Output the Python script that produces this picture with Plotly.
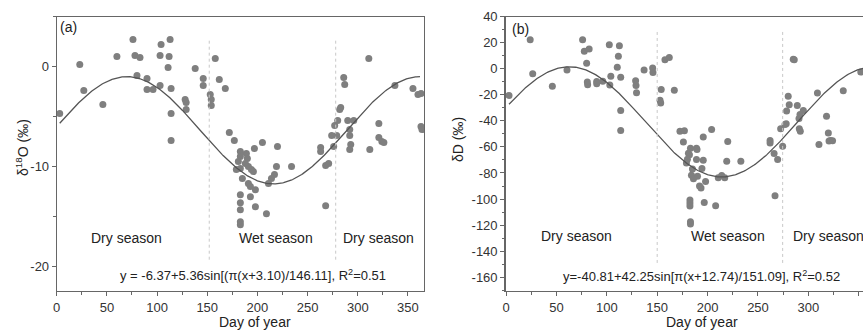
import numpy as np
import plotly.graph_objects as go

# ---------------- data ----------------
day_a = [3, 23, 27, 46, 60, 76, 78, 83, 80, 90, 90, 96, 103, 104, 103, 113, 112, 111, 114, 114, 114,
         128, 129, 129, 138, 146, 146, 153, 154, 154, 158, 162, 168, 172, 177,
         183, 189, 183, 190, 181, 188, 183, 191, 194, 179, 196, 197, 205, 220, 219, 234,
         217, 214, 211, 185, 191, 193, 198, 183, 183, 183, 183, 183, 193, 198, 209,
         263, 263, 268, 271, 268, 274, 279, 276, 277, 280, 282, 283, 286, 287,
         290, 296, 292, 292, 293, 292, 311, 312, 321, 321, 324, 326, 337, 355, 360, 363, 363, 364]
d18o = [-4.7, 0.2, -2.4, -3.8, 1.0, 2.7, 1.1, 0.9, -0.9, -1.2, -2.3, -2.3, 1.1, 2.2, -1.9, 2.7, 1.0, -0.1, -2.2, -4.7, -7.4,
        -3.3, -3.6, -4.3, -0.2, -1.2, -1.9, -2.8, -3.3, -3.9, 0.8, -1.3, -2.2, -6.6, -7.4,
        -8.5, -8.7, -9.0, -9.2, -9.5, -9.7, -10.2, -10.0, -10.3, -10.3, -10.5, -8.2, -7.6, -8.0, -10.0, -10.0,
        -10.8, -11.2, -11.7, -11.2, -11.7, -12.0, -12.3, -12.8, -13.6, -14.3, -15.5, -15.8, -13.0, -14.0, -14.7,
        -8.1, -8.5, -9.9, -9.7, -13.9, -6.9, -6.9, -8.0, -5.9, -5.4, -4.3, -4.1, -1.1, -1.8,
        -5.4, -5.4, -6.3, -6.9, -7.8, -8.3, 0.8, -8.3, -5.7, -7.1, -7.5, -7.6, -1.9, -2.2, -2.8, -2.7, -6.0, -6.3]

day_b = [3, 24, 26.5, 46, 60.5, 76, 77.7, 82.5, 80, 80.7, 81, 90, 90, 96, 102.5, 103, 104, 112.5, 111.5, 110.4,
         113.8, 113.8, 113.8, 128.6, 129, 129.5, 137, 145.5, 145.8, 154, 152.8, 153.5, 157.7, 162, 167,
         172.6, 177, 176, 183, 189, 181, 182, 189.5, 180, 189, 195.7, 179, 185, 194.4, 184, 186, 190, 198,
         192, 193.5, 195.7, 204, 220, 219, 233, 210.6, 214, 217, 182.5, 182.5, 182.5, 196.7, 208, 183, 183,
         262, 262, 266, 269.5, 266.9, 272.5, 274.5, 276.8, 278, 280, 281, 278.4, 285, 286, 289, 295, 291.7,
         290.7, 291, 292, 309, 310.5, 318, 319.8, 320.5, 322, 324, 334.6, 352]
dD = [-20.5, 22.2, -3.9, -13.5, -1.0, 22.1, 13.4, 15.0, 4.2, -10.3, -12.3, -9.8, -11.6, -9.6, 18.3, -12.5, -5.8, 17.5, 9.5, 1.0,
      -6.5, -32, -47.5, -9.2, -13, -18.4, -1.0, 0.6, -3.0, -16, -24.3, -26.4, 6.8, 8.5, -16.6,
      -48, -47.7, -56.2, -61, -61, -64.8, -66, -62, -69.5, -69.7, -70.2, -72.3, -77, -76.6, -81.7, -84.4, -82.5, -86.5,
      -90, -91.6, -52.5, -46.7, -55.9, -71, -71, -83.6, -81.9, -83.6, -100.8, -103, -105.4, -102.6, -105.2, -117.4, -119.2,
      -55, -57, -65, -69.7, -97.5, -46, -59.5, -42.9, -42.3, -21.2, -27.6, -32.5, 7.3, 6.9, -28.3, -32, -35.1,
      -38.3, -46, -48, -18.7, -58.2, -36.5, -49.3, -55.5, -55, -55.3, -17, -2.6]

# fitted equations shown on the chart
fit_a = dict(a=-6.37, b=5.36, c=3.10, d=146.11)
fit_b = dict(a=-40.81, b=42.25, c=12.74, d=151.09)
season_bounds_a = [152, 278]
season_bounds_b = [150, 274.5]

x_ticks = [0, 50, 100, 150, 200, 250, 300, 350]
x_ticktext = ["0", "50", "100", "150", "200", "250", "300", "350"]
ya_ticks = [0, -10, -20]
ya_ticktext = ["0", "-10", "-20"]
yb_ticks = [40, 20, 0, -20, -40, -60, -80, -100, -120, -140, -160]
yb_ticktext = ["40", "20", "0", "-20", "-40", "-60", "-80", "-100", "-120", "-140", "-160"]

def fit(p, x):
    return p["a"] + p["b"] * np.sin(np.pi * (x + p["c"]) / p["d"])

xa = np.linspace(3, 362, 400)
xb = np.linspace(3, 365, 400)

FONT = "Liberation Sans, Arial, sans-serif"
DOT = "#7f7f7f"
LINE = "#555555"
AX = "#666666"
TXT = "#333333"

fig = go.Figure()
fig.add_trace(go.Scatter(x=day_a, y=d18o, mode="markers", marker=dict(size=7, color=DOT),
                         xaxis="x", yaxis="y", showlegend=False))
fig.add_trace(go.Scatter(x=xa, y=fit(fit_a, xa), mode="lines", line=dict(color=LINE, width=1.3),
                         xaxis="x", yaxis="y", showlegend=False))
fig.add_trace(go.Scatter(x=day_b, y=dD, mode="markers", marker=dict(size=7, color=DOT),
                         xaxis="x2", yaxis="y2", showlegend=False))
fig.add_trace(go.Scatter(x=xb, y=fit(fit_b, xb), mode="lines", line=dict(color=LINE, width=1.3),
                         xaxis="x2", yaxis="y2", showlegend=False))

W, H = 863, 330
dom_a = [56.7 / W, 424 / W]
dom_b = [506 / W, 1.0]
dom_y = [1 - 291 / H, 1 - 16.5 / H]

common_x = dict(showgrid=False, zeroline=False, showline=True, linecolor=AX, linewidth=1,
                ticks="outside", ticklen=4, tickcolor=AX, tickmode="array",
                tickvals=x_ticks, ticktext=x_ticktext, automargin=False,
                tickfont=dict(family=FONT, size=13, color=TXT), mirror=True,
                minor=dict(tickmode="linear", tick0=0, dtick=25, ticks="outside",
                           ticklen=2.5, tickcolor=AX, showgrid=False))
common_y = dict(showgrid=False, zeroline=False, showline=True, linecolor=AX,
                ticks="outside", ticklen=4, tickcolor=AX, tickmode="array", automargin=False,
                tickfont=dict(family=FONT, size=13, color=TXT))

fig.update_layout(
    width=W, height=H, margin=dict(l=0, r=0, t=0, b=0, autoexpand=False),
    paper_bgcolor="white", plot_bgcolor="white",
    xaxis=dict(domain=dom_a, range=[0, 366], anchor="y", **common_x),
    yaxis=dict(domain=dom_y, range=[-22.43, 5], anchor="x", tickvals=ya_ticks, ticktext=ya_ticktext,
               mirror=True, linewidth=1,
               minor=dict(tickmode="linear", tick0=0, dtick=5, ticks="outside", ticklen=2.5,
                          tickcolor=AX, showgrid=False), **common_y),
    xaxis2=dict(domain=dom_b, range=[0, 354.2], anchor="y2", **common_x),
    yaxis2=dict(domain=dom_y, range=[-170.5, 40], anchor="x2", tickvals=yb_ticks, ticktext=yb_ticktext,
                linewidth=1.6,
                minor=dict(tickmode="linear", tick0=0, dtick=10, ticks="outside", ticklen=2.5,
                           tickcolor=AX, showgrid=False), **common_y),
)

shapes = []
for xv in season_bounds_a:
    shapes.append(dict(type="line", xref="x", yref="y", x0=xv, x1=xv, y0=-19.3, y1=2.8,
                       line=dict(color="#c8c8c8", width=1, dash="dot")))
for xv in season_bounds_b:
    shapes.append(dict(type="line", xref="x2", yref="y2", x0=xv, x1=xv, y0=-149, y1=29,
                       line=dict(color="#c8c8c8", width=1, dash="dot")))
fig.update_layout(shapes=shapes)

ann = []
def txt(x, y, s, xref, yref, size=14, xanchor="center", **kw):
    ann.append(dict(x=x, y=y, xref=xref, yref=yref, text=s, showarrow=False,
                    xanchor=xanchor, yanchor="middle",
                    font=dict(family=FONT, size=size, color="#222222"), **kw))

txt(70, -17.1, "Dry season", "x", "y")
txt(218.6, -17.1, "Wet season", "x", "y")
txt(321, -17.1, "Dry season", "x", "y")
txt(196, -20.8, "y = -6.37+5.36sin[(π(x+3.10)/146.11], R<sup>2</sup>=0.51", "x", "y", size=13)
txt(70, -128, "Dry season", "x2", "y2")
txt(220, -128, "Wet season", "x2", "y2")
txt(320, -128, "Dry season", "x2", "y2")
txt(194, -159, "y=-40.81+42.25sin[π(x+12.74)/151.09], R<sup>2</sup>=0.52", "x2", "y2", size=13)
txt(58 / W, 1 - 27 / H, "(a)", "paper", "paper", xanchor="left")
txt(510 / W, 1 - 29 / H, "(b)", "paper", "paper", xanchor="left")
txt(22 / W, 1 - 148 / H, "δ<sup>18</sup>O (‰)", "paper", "paper", textangle=-90)
txt(458 / W, 1 - 140 / H, "δD (‰)", "paper", "paper", textangle=-90)
txt(255 / W, 1 - 322 / H, "Day of year", "paper", "paper")
txt(702 / W, 1 - 322 / H, "Day of year", "paper", "paper")
fig.update_layout(annotations=ann)

fig.write_html("out.html", config={"displayModeBar": False},
               post_script="document.body.style.margin='0px';document.body.style.overflow='hidden';")
